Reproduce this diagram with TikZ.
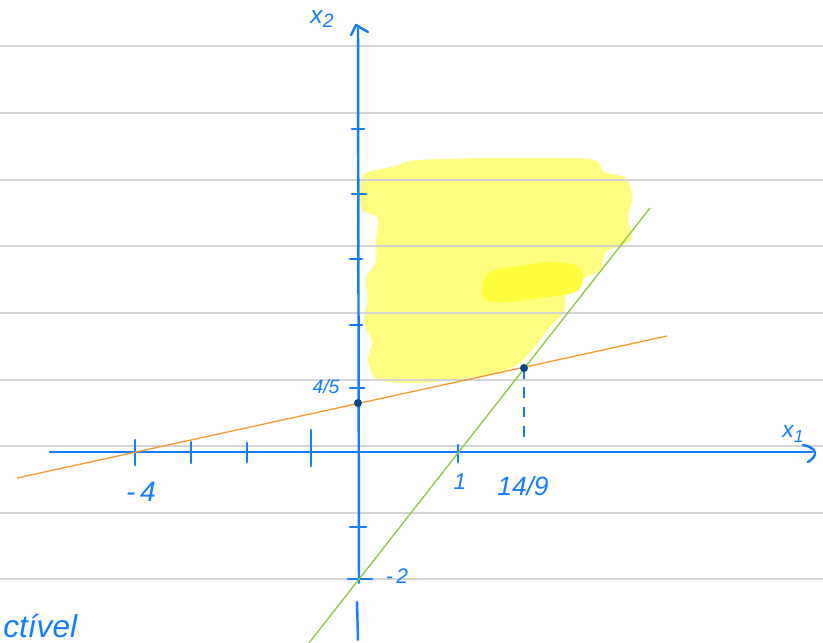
\documentclass[tikz,border=0pt]{standalone}
\usepackage{fontspec}
\setmainfont{Liberation Sans}
\begin{document}
\begin{tikzpicture}[x=0.02cm,y=-0.02cm,
  ruled/.style={draw=black!17,line width=0.7pt},
  axis/.style={draw=penblue,line width=1.4pt,line cap=round,line join=round},
  tickmark/.style={draw=penblue,line width=1.7pt,line cap=round},
  hand/.style={text=penblue,font=\itshape,inner sep=0pt},
  dot/.style={fill=dotblue,draw=none},
  orangeline/.style={draw=lineorange,line width=0.75pt},
  greenline/.style={draw=linegreen,line width=0.75pt}]
\definecolor{penblue}{RGB}{20,125,255}
\definecolor{dotblue}{RGB}{10,70,140}
\definecolor{lineorange}{RGB}{245,155,45}
\definecolor{linegreen}{RGB}{140,200,65}
\definecolor{hilite}{RGB}{255,253,128}
\definecolor{hilitestrong}{RGB}{255,252,60}
\useasboundingbox (0,0) rectangle (823,643);
\fill[white] (0,0) rectangle (823,643);
% highlight
\fill[hilite] plot[smooth cycle, tension=0.45] coordinates {
 (360,192) (364,174) (395,166) (418,160) (500,158) (590,159) (604,172) (626,178)
 (632,198) (628,218) (631,240) (606,252) (600,270) (584,278) (566,290) (565,310)
 (549,328) (532,350) (515,366) (480,376) (420,383) (378,380) (368,360) (372,342)
 (364,322) (368,300) (366,278) (376,262) (376,240) (378,218) (362,210)};
\fill[hilitestrong] plot[smooth cycle, tension=0.6] coordinates {
 (482,288) (490,272) (520,266) (545,262) (575,265) (583,277) (575,292) (540,298) (505,302) (486,300)};
% ruled lines
\foreach \yy in {46,113,180,246,313,380,446,513,579}
  \draw[ruled] (0,\yy) -- (823,\yy);
% named coordinates
\coordinate (O) at (358,452);
\coordinate (xend) at (812,452);
\coordinate (xstart) at (50,452);
\coordinate (ytop) at (358,28);
\coordinate (ygap) at (359,583);
\coordinate (ylow1) at (357,602);
\coordinate (ylow2) at (358,640);
\coordinate (P) at (358,403);
\coordinate (Q) at (524,368);
\coordinate (Qfoot) at (524,444);
\coordinate (oA) at (17,478);
\coordinate (oB) at (667,336);
\coordinate (gA) at (309,643);
\coordinate (gB) at (650,208);
% axes
\draw[axis] (xstart) -- (xend);
\draw[axis] (803,445) .. controls (818,448) and (818,456) .. (808,462);
\draw[axis] (ytop) -- (ygap);
\draw[axis] (ylow1) -- (ylow2);
\draw[axis] (351,35) -- (356,25) -- (368,32);
% ticks y
\foreach \yy/\xa/\xb in {129/352/364,194/352/366,259/350/362,325/350/362,388/350/364,527/350/366,579/348/372}
  \draw[tickmark] (\xa,\yy) -- (\xb,\yy);
% ticks x
\foreach \xx/\ya/\yb in {135/440/465,191/442/463,247/443/462,311/430/466,458/445/462}
  \draw[tickmark] (\xx,\ya) -- (\xx,\yb);
% constraint lines
\draw[orangeline] (oA) -- (oB);
\draw[greenline] (gA) -- (gB);
% dashed projection
\draw[draw=penblue,line width=1pt,dash pattern=on 6pt off 5pt] (Q) -- (Qfoot);
% points
\fill[dot] (P) ellipse (4 and 4);
\fill[dot] (Q) ellipse (4 and 4);
% labels
\node[hand,font=\itshape\fontsize{14}{16}\selectfont] (lx2) at (322,19) {x\raisebox{-0.35ex}{\fontsize{11}{12}\selectfont 2}};
\node[hand,font=\itshape\fontsize{13}{15}\selectfont] (lx1) at (793,434) {x\raisebox{-0.35ex}{\fontsize{10}{12}\selectfont 1}};
\node[hand,font=\itshape\fontsize{16}{18}\selectfont] (lm4) at (141,492) {-\,4};
\node[hand,font=\itshape\fontsize{11}{13}\selectfont] (l45) at (326,387) {4/5};
\node[hand,font=\itshape\fontsize{13}{15}\selectfont] (l1) at (460,482) {1};
\node[hand,font=\itshape\fontsize{15}{17}\selectfont] (l149) at (523,486) {14/9};
\node[hand,font=\itshape\fontsize{12}{14}\selectfont] (lm2) at (397,576) {-\,2};
\node[hand,font=\itshape\fontsize{18}{20}\selectfont,anchor=south west] (lfact) at (3,638) {ctível};
\end{tikzpicture}
\end{document}
